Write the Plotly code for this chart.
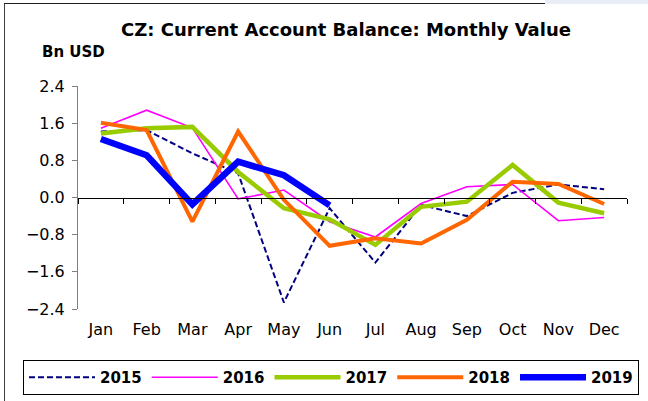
import plotly.graph_objects as go

# Monthly current account balance, Bn USD
months = ["Jan", "Feb", "Mar", "Apr", "May", "Jun",
          "Jul", "Aug", "Sep", "Oct", "Nov", "Dec"]

y2015 = [1.42, 1.45, 0.95, 0.52, -2.26, -0.23, -1.40, -0.16, -0.40, 0.10, 0.28, 0.18]
y2016 = [1.49, 1.88, 1.50, -0.03, 0.16, -0.52, -0.85, -0.13, 0.23, 0.28, -0.50, -0.43]
y2017 = [1.38, 1.49, 1.52, 0.55, -0.23, -0.47, -1.02, -0.20, -0.09, 0.70, -0.11, -0.34]
y2018 = [1.61, 1.45, -0.52, 1.42, -0.05, -1.04, -0.88, -0.99, -0.48, 0.34, 0.29, -0.14]
y2019 = [1.26, 0.91, -0.15, 0.77, 0.48, -0.17]

y_ticks = [-2.4, -1.6, -0.8, 0.0, 0.8, 1.6, 2.4]

series = [
    ("2015", y2015, dict(color="#000080", width=2, dash="6px,3px")),
    ("2016", y2016, dict(color="#ff00ff", width=1.6)),
    ("2017", y2017, dict(color="#99cc00", width=4.5)),
    ("2018", y2018, dict(color="#ff6600", width=4)),
    ("2019", y2019, dict(color="#0000ff", width=6.5)),
]

FONT = "DejaVu Sans"

fig = go.Figure()
for name, vals, line in series:
    fig.add_trace(go.Scatter(
        x=months[:len(vals)], y=vals, name=name, mode="lines",
        line=line, xaxis="x", yaxis="y",
    ))

# page geometry (px)
W, H = 648, 401
L, R, T, B = 78, 21, 86, 92
pw, ph = W - L - R, H - T - B


def px_x(p):
    return (p - L) / pw


def px_y(p):
    return (H - B - p) / ph


fig.update_layout(
    width=W, height=H,
    margin=dict(l=L, r=R, t=T, b=B, autoexpand=False),
    paper_bgcolor="white", plot_bgcolor="white",
    font=dict(family=FONT, color="black", size=15),
    title=dict(
        text="<b>CZ: Current Account Balance: Monthly Value</b>",
        xref="container", yref="container",
        x=346 / W, xanchor="center", y=1 - 30 / H, yanchor="middle",
        font=dict(family=FONT, size=18, color="black"),
    ),
    xaxis=dict(
        categoryorder="array", categoryarray=months,
        range=[-0.5, 11.5], showline=False, showgrid=False, zeroline=False,
        ticks="", tickfont=dict(size=16), ticklabelstandoff=9,
    ),
    # zero-level axis carrying the month boundary ticks
    xaxis2=dict(
        overlaying="x", matches="x", anchor="free", position=0.5,
        categoryorder="array", categoryarray=months,
        showline=True, linecolor="black", linewidth=1,
        ticks="outside", tickson="boundaries", ticklen=5, tickcolor="black",
        tickwidth=1, showticklabels=False, showgrid=False, zeroline=False,
    ),
    yaxis=dict(
        range=[-2.4, 2.4], tickvals=y_ticks, tickformat=".1f",
        showline=True, linecolor="#808080", linewidth=1,
        ticks="outside", ticklen=5, tickcolor="#808080",
        showgrid=False, zeroline=False, tickfont=dict(size=16),
        ticklabelstandoff=4,
    ),
    legend=dict(
        orientation="h", xref="paper", yref="paper",
        x=px_x(23), xanchor="left", y=px_y(360), yanchor="top",
        bgcolor="white", bordercolor="black", borderwidth=1,
        font=dict(family=FONT, size=15, color="black", weight="bold"),
        itemwidth=66, tracegroupgap=0,
    ),
    showlegend=True,
    annotations=[dict(
        text="<b>Bn USD</b>", xref="paper", yref="paper",
        x=px_x(40), xanchor="left", y=px_y(52), yanchor="middle",
        showarrow=False, font=dict(family=FONT, size=15, color="black"),
    )],
    shapes=[
        dict(type="line", xref="paper", yref="paper",
             x0=px_x(4.5), x1=px_x(4.5), y0=px_y(3), y1=px_y(401),
             line=dict(color="#404040", width=1)),
        dict(type="line", xref="paper", yref="paper",
             x0=px_x(4), x1=px_x(545), y0=px_y(3.5), y1=px_y(3.5),
             line=dict(color="#202020", width=1)),
        dict(type="rect", xref="paper", yref="paper",
             x0=px_x(545), x1=px_x(648), y0=px_y(0), y1=px_y(4),
             fillcolor="#e9edf5", line=dict(width=0), layer="below"),
    ],
)

# empty trace that keeps the zero-level axis drawn
fig.add_trace(go.Scatter(x=months, y=[None] * 12, xaxis="x2", yaxis="y",
                         showlegend=False, hoverinfo="skip"))

fig.write_html("out.html")
